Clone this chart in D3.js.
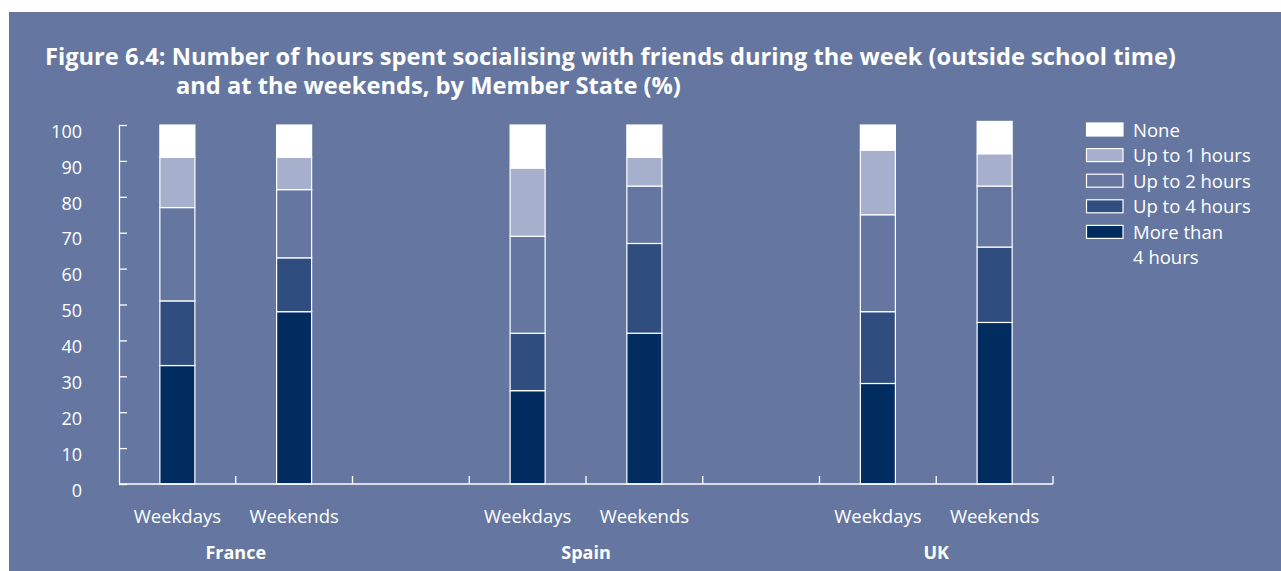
<!DOCTYPE html>
<html>
<head>
<meta charset="utf-8">
<script src="https://cdn.jsdelivr.net/npm/d3@7"></script>
<style>
  html, body { margin: 0; padding: 0; background: #ffffff; }
  svg { display: block; }
  text { font-family: "Open Sans", "Noto Sans", sans-serif; fill: #ffffff; }
</style>
</head>
<body>
<svg id="chart" width="1281" height="571"></svg>
<script>
// ---------------- DATA ----------------
const countries = ["France", "Spain", "UK"];
const periods = ["Weekdays", "Weekends"];
// bar order: France Weekdays, France Weekends, Spain Weekdays, Spain Weekends, UK Weekdays, UK Weekends
const moreThan4Hours = [33, 48, 26, 42, 28, 45];
const upTo4Hours     = [18, 15, 16, 25, 20, 21];
const upTo2Hours     = [26, 19, 27, 16, 27, 17];
const upTo1Hours     = [14,  9, 19,  8, 18,  9];
const noneHours      = [ 9,  9, 12,  9,  7,  9];
const seriesNames = ["More than 4 hours", "Up to 4 hours", "Up to 2 hours", "Up to 1 hours", "None"];
const legendLabels = ["None", "Up to 1 hours", "Up to 2 hours", "Up to 4 hours", "More than|4 hours"];
const yTicks = [0, 10, 20, 30, 40, 50, 60, 70, 80, 90, 100];
const titleLines = [
  "Figure 6.4: Number of hours spent socialising with friends during the week (outside school time)",
  "and at the weekends, by Member State (%)"
];

// ---------------- STYLE ----------------
const bg = "#6577a0";
const colors = {
  "More than 4 hours": "#002c5f",
  "Up to 4 hours": "#2f4d7f",
  "Up to 2 hours": bg,
  "Up to 1 hours": "#a6afcc",
  "None": "#ffffff"
};

const svg = d3.select("#chart");
svg.append("rect").attr("x", 9).attr("y", 12).attr("width", 1272).attr("height", 559).attr("fill", bg);

// ---------------- SCALES ----------------
const slots = [];
countries.forEach((c, i) => {
  periods.forEach(p => slots.push(c + "|" + p));
  if (i < countries.length - 1) slots.push("gap" + i);
});
const x = d3.scaleBand().domain(slots).range([119, 1053]).padding(0);
const y = d3.scaleLinear().domain([0, 100]).range([484, 125]);

// stacked data
const rows = [];
countries.forEach((c, ci) => periods.forEach((p, pi) => {
  const i = ci * 2 + pi;
  rows.push({
    key: c + "|" + p,
    "More than 4 hours": moreThan4Hours[i],
    "Up to 4 hours": upTo4Hours[i],
    "Up to 2 hours": upTo2Hours[i],
    "Up to 1 hours": upTo1Hours[i],
    "None": noneHours[i]
  });
}));
const stack = d3.stack().keys(seriesNames)(rows);

// ---------------- BARS ----------------
const bw = x.bandwidth();
const barW = bw * 0.3;
const gBars = svg.append("g");
stack.forEach(layer => {
  gBars.selectAll(null).data(layer).enter().append("rect")
    .attr("x", d => x(d.data.key) + (bw - barW) / 2)
    .attr("y", d => y(d[1]))
    .attr("width", barW)
    .attr("height", d => y(d[0]) - y(d[1]))
    .attr("fill", colors[layer.key])
    .attr("stroke", "#ffffff")
    .attr("stroke-width", 1.2);
});

// ---------------- AXES ----------------
const yAxis = d3.axisLeft(y).tickValues(yTicks).tickSizeInner(-8).tickSizeOuter(0).tickPadding(37);
const gy = svg.append("g").attr("transform", "translate(119,0)").call(yAxis);
gy.selectAll("path, line").attr("stroke", "#ffffff").attr("stroke-width", 1.3);
gy.selectAll("text").attr("fill", "#ffffff").attr("font-size", 18)
  .attr("font-family", "'Open Sans', sans-serif").attr("dy", "0.32em").attr("y", 6.5);

// x axis line and boundary ticks
const gx = svg.append("g");
gx.append("line").attr("x1", x.range()[0]).attr("x2", x.range()[1]).attr("y1", y(0)).attr("y2", y(0))
  .attr("stroke", "#ffffff").attr("stroke-width", 1.3);
gx.selectAll(null).data(slots).enter().append("line")
  .attr("x1", d => x(d) + bw).attr("x2", d => x(d) + bw)
  .attr("y1", y(0)).attr("y2", y(0) - 8)
  .attr("stroke", "#ffffff").attr("stroke-width", 1.3);

// period labels
gx.selectAll(null).data(rows).enter().append("text")
  .attr("x", d => x(d.key) + bw / 2)
  .attr("y", 522.5)
  .attr("text-anchor", "middle")
  .attr("font-size", 18.5)
  .text(d => d.key.split("|")[1]);

// country labels
gx.selectAll(null).data(countries).enter().append("text")
  .attr("x", c => x(c + "|" + periods[0]) + bw)
  .attr("y", 559)
  .attr("text-anchor", "middle")
  .attr("font-size", 18)
  .attr("font-weight", "bold")
  .text(c => c);

// ---------------- TITLE ----------------
function fitWidth(sel, target) {
  const node = sel.node();
  const fs = parseFloat(sel.attr("font-size"));
  const w = node.getComputedTextLength();
  sel.attr("font-size", (fs * target / w).toFixed(2));
}
const t1 = svg.append("text").attr("x", 45).attr("y", 65).attr("font-size", 22).attr("font-weight", "bold").text(titleLines[0]);
fitWidth(t1, 1131);
const t2 = svg.append("text").attr("x", 176).attr("y", 94).attr("font-size", t1.attr("font-size")).attr("font-weight", "bold").text(titleLines[1]);

// ---------------- LEGEND ----------------
const legendKeys = ["None", "Up to 1 hours", "Up to 2 hours", "Up to 4 hours", "More than 4 hours"];
const gl = svg.append("g");
legendKeys.forEach((k, i) => {
  const top = 123 + i * 25.6;
  gl.append("rect").attr("x", 1086.5).attr("y", top).attr("width", 36.5).attr("height", 13)
    .attr("fill", colors[k]).attr("stroke", "#ffffff").attr("stroke-width", 1.2);
  const parts = legendLabels[i].split("|");
  parts.forEach((p, j) => {
    gl.append("text").attr("x", 1133).attr("y", top + 13.5 + j * 25)
      .attr("font-size", 18.5).text(p);
  });
});
</script>
</body>
</html>
